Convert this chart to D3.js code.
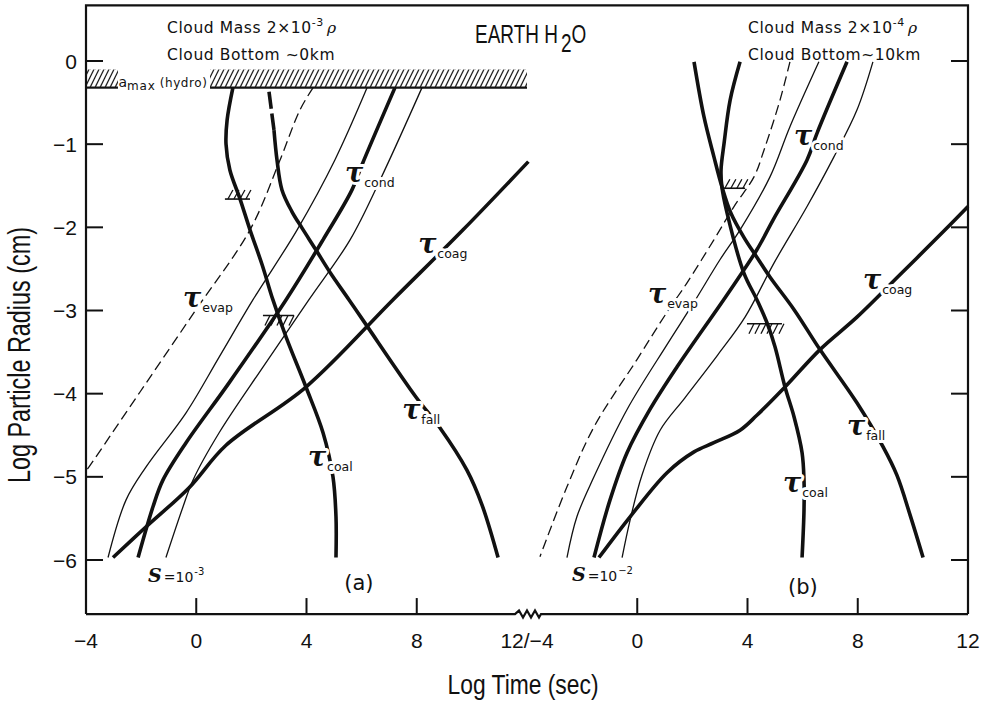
<!DOCTYPE html>
<html>
<head>
<meta charset="utf-8">
<script src="https://cdn.jsdelivr.net/npm/d3@7"></script>
<style>
body { margin: 0; background: #fff; }
text { fill: #111; }
</style>
</head>
<body>
<div id="chart"></div>
<script>
// curves are [log time (sec), log particle radius (cm)]
// ---- panel (a): cloud mass 2e-3 rho, cloud bottom ~0 km
var coalA = [[1.33,-0.32],[1.12,-0.71],[1.08,-1.0],[1.22,-1.31],[1.59,-1.66],[1.95,-2.03],[2.39,-2.45],[2.78,-2.87],[3.26,-3.32],[3.98,-3.92],[4.6,-4.47],[4.96,-5.0],[5.07,-5.48],[5.07,-5.97]];
var fallTopA = [[2.64,-0.37],[2.73,-0.6],[2.82,-0.83]];
var fallA = [[2.82,-0.83],[2.93,-1.19],[3.11,-1.55],[3.47,-1.81],[3.84,-2.01],[4.34,-2.27],[4.85,-2.54],[5.54,-2.87],[6.16,-3.17],[7.97,-4.04],[8.84,-4.41],[9.82,-4.92],[10.37,-5.34],[10.95,-5.97]];
var condA = [[7.21,-0.32],[6.01,-1.25],[5.65,-1.55],[4.6,-2.15],[3.26,-2.87],[1.19,-3.87],[-0.37,-4.59],[-1.21,-5.04],[-1.57,-5.36],[-2.11,-5.97]];
var condHiA = [[8.19,-0.32],[6.67,-1.43],[5.58,-2.15],[4.09,-2.87],[2.42,-3.68],[0.83,-4.47],[-0.12,-5.04],[-0.48,-5.36],[-1.1,-5.97]];
var condLoA = [[6.2,-0.32],[5.03,-1.19],[3.66,-2.03],[2.06,-2.87],[0.83,-3.56],[-0.37,-4.23],[-1.82,-4.88],[-2.55,-5.28],[-3.2,-5.97]];
var evapA = [[4.24,-0.32],[3.76,-0.59],[3.04,-1.19],[1.95,-2.03],[-0.01,-2.99],[-2.04,-3.98],[-3.89,-4.88],[-4,-4.93]];
var coagA = [[12.05,-1.21],[9.68,-2.03],[7.14,-2.87],[3.98,-3.92],[1.08,-4.62],[-0.26,-5.13],[-1.82,-5.6],[-3.02,-5.97]];

// ---- panel (b): cloud mass 2e-4 rho, cloud bottom ~10 km
var coalB = [[3.73,-0.01],[3.37,-0.47],[3.15,-0.99],[3.04,-1.31],[3.07,-1.51],[3.26,-1.83],[3.87,-2.55],[4.34,-2.87],[4.71,-3.15],[5.0,-3.44],[5.36,-3.92],[5.69,-4.28],[5.98,-4.71],[6.05,-5.04],[6.05,-5.4],[5.98,-5.97]];
var fallB = [[2.06,-0.01],[2.42,-0.67],[2.78,-1.15],[3.07,-1.51],[3.4,-1.83],[3.87,-2.12],[4.34,-2.36],[4.82,-2.6],[5.69,-2.99],[6.63,-3.47],[7.97,-4.11],[8.92,-4.64],[9.42,-4.98],[9.9,-5.46],[10.37,-5.97]];
var condB = [[7.61,-0.01],[6.52,-0.87],[6.16,-1.19],[4.93,-1.91],[4.34,-2.27],[3.26,-2.81],[1.44,-3.68],[0.46,-4.19],[-0.37,-4.71],[-0.99,-5.28],[-1.57,-5.97]];
var condHiB = [[8.55,-0.01],[7.97,-0.59],[7.14,-1.15],[6.16,-1.75],[4.96,-2.43],[3.91,-3.08],[2.93,-3.53],[1.73,-4.05],[0.83,-4.44],[0.17,-4.98],[-0.26,-5.52],[-0.55,-5.97]];
var condLoB = [[6.59,-0.01],[5.54,-0.79],[4.82,-1.39],[3.73,-2.03],[3.0,-2.39],[2.06,-2.9],[1.08,-3.41],[-0.37,-4.19],[-1.57,-5.0],[-2.19,-5.48],[-2.55,-5.97]];
var evapB = [[5.54,-0.01],[5.18,-0.47],[4.6,-1.07],[4.24,-1.39],[3.51,-1.75],[2.78,-2.15],[1.8,-2.67],[1.08,-3.02],[-0.01,-3.59],[-1.57,-4.4],[-2.55,-5.12],[-3.53,-5.96]];
var coagB = [[-1.39,-5.97],[-0.26,-5.48],[1.08,-4.95],[2.06,-4.7],[2.78,-4.59],[3.73,-4.44],[4.34,-4.26],[5.36,-3.92],[6.63,-3.47],[7.97,-3.08],[9.53,-2.57],[11.17,-2.03],[12,-1.75]];

// a_max (hydro) band: [x from, x to] pieces, and its top / bottom radius
var hydroPieces = [[-4,-2.84],[0.5,12]];
var hydroTop = -0.1, hydroBottom = -0.32;

// small hatch marks: [x from, x to, log radius]
var marksUpA = [[1.04,1.95,-1.66]];
var marksDownA = [[2.42,3.55,-3.06]];
var marksUpB = [[3.07,3.91,-1.53]];
var marksDownB = [[3.98,5.25,-3.16]];

var yTicks = [0,-1,-2,-3,-4,-5,-6];
var xTicks = [0,4,8];

var svg = d3.select("#chart").append("svg")
            .attr("width", 987)
            .attr("height", 702);

var y  = d3.scaleLinear().domain([0,-6]).range([61,560]);
var xa = d3.scaleLinear().domain([-4,12]).range([86,527]);
var xb = d3.scaleLinear().domain([-4,12]).range([527,968]);

var frameTop = y(0.67), frameBottom = y(-6.65);
var left = xa(-4), right = xb(12);

var ink = "#111";
var sans = "'DejaVu Sans', sans-serif";
var narrow = "'Liberation Sans', Arial, sans-serif";

//------------------- frame -------------------------------------------
svg.append("path")
    .attr("d", "M" + left + "," + frameBottom + "V" + frameTop + "H" + right + "V" + frameBottom)
    .attr("fill", "none").attr("stroke", ink).attr("stroke-width", 2.2);

// bottom axis line with the break zigzag between the panels
var brk = xa(12);
var zz = "M" + left + "," + frameBottom + "H" + (brk - 12);
var zx = brk - 12;
for (var i = 0; i < 6; i++) {
  zx += 4;
  zz += "L" + zx + "," + (frameBottom + (i % 2 == 0 ? -3.5 : 3.5));
}
zz += "L" + (zx + 2) + "," + frameBottom + "H" + right;
svg.append("path").attr("d", zz)
    .attr("fill", "none").attr("stroke", ink).attr("stroke-width", 2.2);

// y ticks, both sides, pointing in
yTicks.forEach(function(v){
  svg.append("line").attr("x1", left).attr("x2", left + 17)
     .attr("y1", y(v)).attr("y2", y(v)).attr("stroke", ink).attr("stroke-width", 2);
  svg.append("line").attr("x1", right - 17).attr("x2", right)
     .attr("y1", y(v)).attr("y2", y(v)).attr("stroke", ink).attr("stroke-width", 2);
  svg.append("text").attr("x", 77).attr("y", y(v) + 7.5)
     .attr("text-anchor", "end").style("font-family", narrow).style("font-size", "21px")
     .text(v == 0 ? "0" : "\u2212" + Math.abs(v));
});

// x ticks, both panels
[xa, xb].forEach(function(xs){
  xTicks.forEach(function(v){
    svg.append("line").attr("x1", xs(v)).attr("x2", xs(v))
       .attr("y1", frameBottom).attr("y2", frameBottom - 16)
       .attr("stroke", ink).attr("stroke-width", 2);
  });
});
var xLabels = [[xa,-4,"\u22124"],[xa,0,"0"],[xa,4,"4"],[xa,8,"8"],[xa,12,"12/\u22124"],
               [xb,0,"0"],[xb,4,"4"],[xb,8,"8"],[xb,12,"12"]];
xLabels.forEach(function(d){
  svg.append("text").attr("x", d[0](d[1])).attr("y", 648)
     .attr("text-anchor", "middle").style("font-family", narrow).style("font-size", "21px")
     .text(d[2]);
});

// axis titles
svg.append("text").attr("x", 523).attr("y", 694)
   .attr("text-anchor", "middle").style("font-family", narrow).style("font-size", "28px")
   .attr("textLength", 151).attr("lengthAdjust", "spacingAndGlyphs")
   .text("Log Time  (sec)");
svg.append("text")
   .attr("transform", "translate(30,355)rotate(-90)")
   .attr("text-anchor", "middle").style("font-family", narrow).style("font-size", "31px")
   .attr("textLength", 256).attr("lengthAdjust", "spacingAndGlyphs")
   .text("Log Particle Radius  (cm)");

//------------------- hydro band --------------------------------------
var bandH = y(hydroBottom) - y(hydroTop);
var pat = svg.append("defs").append("pattern")
    .attr("id", "hatch").attr("patternUnits", "userSpaceOnUse")
    .attr("x", 0).attr("y", y(hydroTop)).attr("width", 5).attr("height", bandH);
[-1, 0, 1].forEach(function(k){
  pat.append("line").attr("x1", k * 5).attr("y1", bandH).attr("x2", k * 5 + 9).attr("y2", 0)
     .attr("stroke", ink).attr("stroke-width", 1.2);
});
hydroPieces.forEach(function(p){
  svg.append("rect").attr("x", xa(p[0])).attr("y", y(hydroTop))
     .attr("width", xa(p[1]) - xa(p[0])).attr("height", bandH)
     .attr("fill", "url(#hatch)");
  svg.append("line").attr("x1", xa(p[0])).attr("x2", xa(p[1]))
     .attr("y1", y(hydroBottom)).attr("y2", y(hydroBottom))
     .attr("stroke", ink).attr("stroke-width", 2.2);
});
var amax = svg.append("text").attr("x", xa(-2.82)).attr("y", y(hydroBottom) - 1)
   .style("font-family", sans).style("font-size", "14px");
amax.append("tspan").text("a");
amax.append("tspan").attr("dy", 3).style("font-size", "12px").style("letter-spacing", "0.8px").text("max");
amax.append("tspan").attr("dy", -3).attr("dx", 4).style("font-size", "12px")
    .style("letter-spacing", "0.6px").text("(hydro)");

//------------------- curves ------------------------------------------
function drawCurve(xs, pts, width, dash) {
  var line = d3.line()
      .curve(d3.curveCatmullRom.alpha(0.5))
      .x(function(d){ return xs(d[0]); })
      .y(function(d){ return y(d[1]); });
  svg.append("path")
      .datum(pts)
      .attr("d", line)
      .attr("fill", "none")
      .attr("stroke", ink)
      .attr("stroke-width", width)
      .attr("stroke-dasharray", dash || null)
      .attr("stroke-linecap", "butt");
}
var thick = 3.6, thin = 1.3;

drawCurve(xa, condLoA, thin);
drawCurve(xa, condHiA, thin);
drawCurve(xa, evapA, thin, "10,5");
drawCurve(xa, condA, thick);
drawCurve(xa, coagA, thick);
drawCurve(xa, coalA, thick);
drawCurve(xa, fallTopA, thick, "17,5");
drawCurve(xa, fallA, thick);

drawCurve(xb, condLoB, thin);
drawCurve(xb, condHiB, thin);
drawCurve(xb, evapB, thin, "10,5");
drawCurve(xb, condB, thick);
drawCurve(xb, coagB, thick);
drawCurve(xb, coalB, thick);
drawCurve(xb, fallB, thick);

//------------------- hatch marks on tau_coal -------------------------
function hatchMark(xs, m, up) {
  var x1 = xs(m[0]), x2 = xs(m[1]), yy = y(m[2]);
  svg.append("line").attr("x1", x1).attr("x2", x2).attr("y1", yy).attr("y2", yy)
     .attr("stroke", ink).attr("stroke-width", 1.6);
  for (var hx = x1 + 3; hx < x2; hx += 6) {
    if (up) {
      svg.append("line").attr("x1", hx).attr("y1", yy).attr("x2", hx + 5).attr("y2", yy - 9)
         .attr("stroke", ink).attr("stroke-width", 1.3);
    } else {
      svg.append("line").attr("x1", hx + 4).attr("y1", yy).attr("x2", hx - 1).attr("y2", yy + 10)
         .attr("stroke", ink).attr("stroke-width", 1.3);
    }
  }
}
marksUpA.forEach(function(m){ hatchMark(xa, m, true); });
marksDownA.forEach(function(m){ hatchMark(xa, m, false); });
marksUpB.forEach(function(m){ hatchMark(xb, m, true); });
marksDownB.forEach(function(m){ hatchMark(xb, m, false); });

//------------------- tau labels (white halo breaks the curves) --------
function tauLabel(xs, x0, y0, sub) {
  var t = svg.append("text")
      .attr("x", xs(x0)).attr("y", y(y0))
      .attr("stroke", "#fff").attr("stroke-width", 6)
      .attr("paint-order", "stroke").attr("stroke-linejoin", "round");
  t.append("tspan").text("\u03c4")
      .style("font-family", "'DejaVu Serif', serif").style("font-style", "italic")
      .style("font-weight", "bold").style("font-size", "27px");
  t.append("tspan").attr("dy", 5).attr("dx", 1).text(sub)
      .style("font-family", sans).style("font-size", "12.5px");
}
tauLabel(xa, 5.4, -1.45, "cond");
tauLabel(xa, 8.05, -2.31, "coag");
tauLabel(xa, -0.48, -2.96, "evap");
tauLabel(xa, 7.47, -4.31, "fall");
tauLabel(xa, 4.05, -4.87, "coal");
tauLabel(xb, 5.69, -1.01, "cond");
tauLabel(xb, 0.39, -2.91, "evap");
tauLabel(xb, 8.19, -2.74, "coag");
tauLabel(xb, 7.61, -4.5, "fall");
tauLabel(xb, 5.29, -5.18, "coal");

// supersaturation labels
function satLabel(xs, x0, y0, ex) {
  var t = svg.append("text").attr("x", xs(x0)).attr("y", y(y0));
  t.append("tspan").text("S")
      .style("font-family", "'DejaVu Serif', serif").style("font-style", "italic")
      .style("font-weight", "bold").style("font-size", "19px");
  t.append("tspan").attr("dx", 2).text("=10").style("font-family", sans).style("font-size", "14px");
  t.append("tspan").attr("dy", -7).attr("dx", 1).text(ex).style("font-family", sans).style("font-size", "10px");
}
satLabel(xa, -1.75, -6.26, "-3");
satLabel(xb, -2.37, -6.25, "\u22122");

// panel letters
svg.append("text").attr("x", xa(5.9)).attr("y", 590).attr("text-anchor", "middle")
   .style("font-family", sans).style("font-size", "21px").text("(a)");
svg.append("text").attr("x", xb(6.01)).attr("y", 594).attr("text-anchor", "middle")
   .style("font-family", sans).style("font-size", "21px").text("(b)");

//------------------- cloud notes and title ---------------------------
function cloudNote(x0, ex, bottomText) {
  var t1 = svg.append("text").attr("x", x0).attr("y", 33)
      .style("font-family", sans).style("font-size", "15.5px").style("letter-spacing", "0.6px");
  t1.append("tspan").text("Cloud Mass  2\u00d710");
  t1.append("tspan").attr("dy", -7).style("font-size", "11px").text(ex);
  t1.append("tspan").attr("dy", 7).attr("dx", 3).style("font-family", "'DejaVu Serif', serif")
      .style("font-style", "italic").text("\u03c1");
  svg.append("text").attr("x", x0).attr("y", 60)
      .style("font-family", sans).style("font-size", "15.5px").style("letter-spacing", "0.6px")
      .text(bottomText);
}
cloudNote(167, "-3", "Cloud Bottom \u223c0km");
cloudNote(748, "-4", "Cloud Bottom~10km");

var title = svg.append("text")
    .attr("transform", "translate(475,43)scale(0.76,1)")
    .style("font-family", narrow).style("font-size", "25px");
title.append("tspan").text("EARTH H");
title.append("tspan").attr("dy", 9).attr("dx", 4).text("2");
title.append("tspan").attr("dy", -9).text("O");
</script>
</body>
</html>
